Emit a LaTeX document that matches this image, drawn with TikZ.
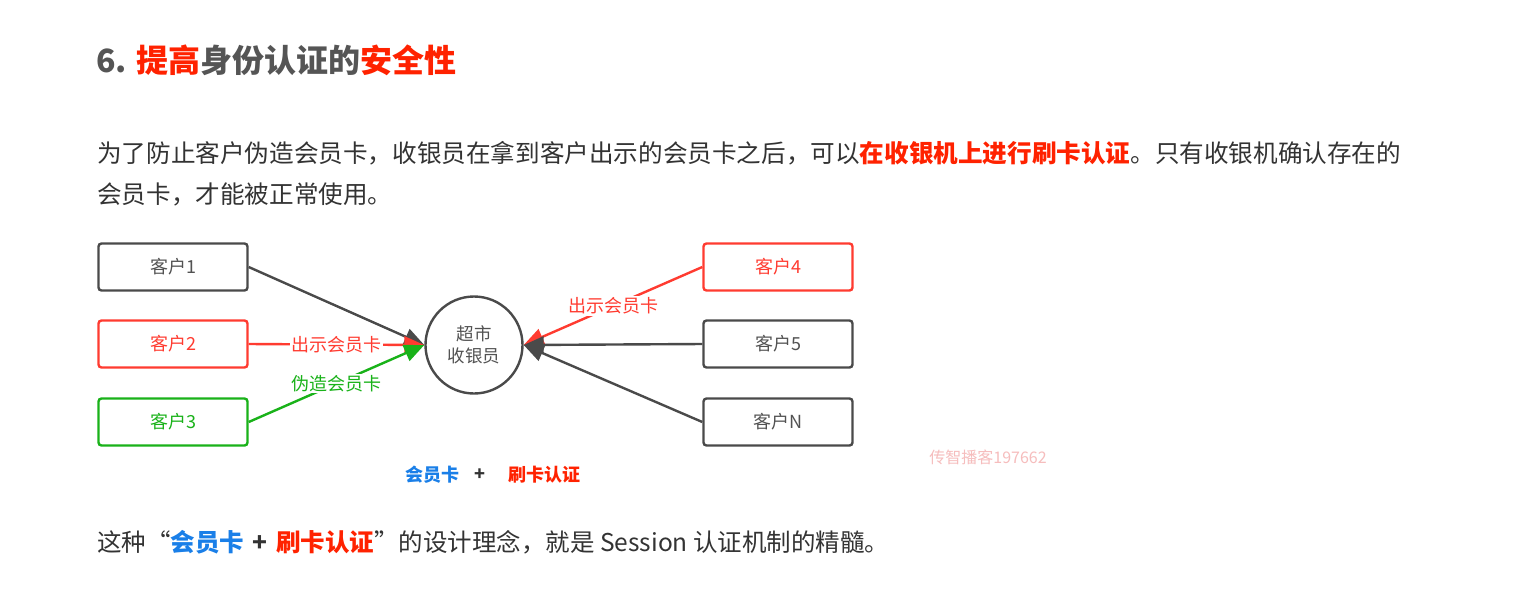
\documentclass[tikz,border=0pt]{standalone}
\usepackage{fontspec}
\setmainfont{Noto Sans CJK SC}
\usetikzlibrary{arrows.meta}
\definecolor{txt}{HTML}{333333}
\definecolor{ttl}{HTML}{555555}
\definecolor{hired}{HTML}{FF2200}
\definecolor{bred}{HTML}{FF3B30}
\definecolor{bgreen}{HTML}{19B219}
\definecolor{bblue}{HTML}{1A7FE8}
\definecolor{bgray}{HTML}{4A4A4A}
\definecolor{wm}{HTML}{F6BDBD}
\begin{document}
\begin{tikzpicture}[x=1pt,y=-1pt,
  cbox/.style={draw=bgray, line width=2.4pt, rounded corners=3pt, minimum width=149pt, minimum height=47pt, inner sep=0pt, text=txt!85, font=\fontsize{18}{20}\selectfont},
  redbox/.style={cbox, draw=bred, text=bred},
  greenbox/.style={cbox, draw=bgreen, text=bgreen},
  conn/.style={line width=2.4pt, draw=bgray, -{Triangle[length=20pt,width=17pt]}},
  redconn/.style={conn, draw=bred, fill=bred},
  greenconn/.style={conn, draw=bgreen, fill=bgreen},
  lbl/.style={midway, fill=white, inner sep=1.5pt, font=\fontsize{18}{20}\selectfont},
  para/.style={anchor=west, inner sep=0pt, text=txt, font=\fontsize{24.6}{30}\selectfont}
]
\useasboundingbox[fill=white] (0,0) rectangle (1525,598);

% title
\node[anchor=west, inner sep=0pt, text=ttl, font=\fontsize{32}{38}\selectfont\bfseries] (title) at (96,60)
  {6. \textcolor{hired}{提高}身份认证的\textcolor{hired}{安全性}};

% paragraph
\node[para] (p1) at (97,153)
  {为了防止客户伪造会员卡，收银员在拿到客户出示的会员卡之后，可以\textcolor{hired}{\bfseries 在收银机上进行刷卡认证}。只有收银机确认存在的};
\node[para] (p2) at (97,194) {会员卡，才能被正常使用。};

% nodes
\node[cbox] (c1) at (173,267) {客户1};
\node[redbox] (c2) at (173,344) {客户2};
\node[greenbox] (c3) at (173,422) {客户3};
\node[redbox] (c4) at (778,267) {客户4};
\node[cbox] (c5) at (778,344) {客户5};
\node[cbox] (cN) at (778,422) {客户N};
\node[circle, draw=bgray, line width=2.4pt, minimum size=97pt, inner sep=0pt, align=center, text=txt!85,
  font=\fontsize{17.5}{22}\selectfont] (cash) at (474,345) {超市\\收银员};

% connectors
\draw[conn] (c1.east) -- (cash.west);
\draw[redconn] (c2.east) -- node[lbl, text=bred] {出示会员卡} (cash.west);
\draw[greenconn] (c3.east) -- node[lbl, text=bgreen] {伪造会员卡} (cash.west);
\draw[redconn] (c4.west) -- node[lbl, text=bred] {出示会员卡} (cash.east);
\draw[conn] (c5.west) -- (cash.east);
\draw[conn] (cN.west) -- (cash.east);

% legend
\node[inner sep=0pt, text=bblue, font=\fontsize{18}{20}\selectfont\bfseries] (lk) at (432,475) {会员卡};
\node[inner sep=0pt, text=txt, font=\fontsize{18}{20}\selectfont\bfseries] (lp) at (480,475) {+};
\node[inner sep=0pt, text=hired, font=\fontsize{18}{20}\selectfont\bfseries] (lr) at (544,475) {刷卡认证};

% watermark
\node[inner sep=0pt, text=wm, font=\fontsize{16}{18}\selectfont] (wmk) at (988,457) {传智播客197662};

% final line
\node[para, font=\fontsize{24.5}{28}\selectfont] (p3) at (97,542)
  {这种“\textcolor{bblue}{\bfseries 会员卡}\hspace{0.35em}{\bfseries +}\hspace{0.35em}\textcolor{hired}{\bfseries 刷卡认证}”的设计理念，就是 Session 认证机制的精髓。};
\end{tikzpicture}
\end{document}
